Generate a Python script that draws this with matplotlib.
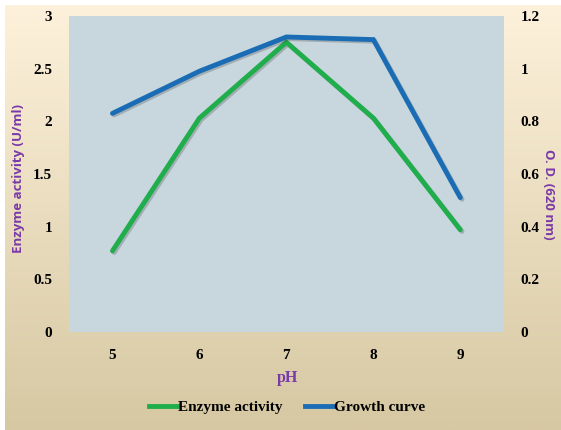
import numpy as np
import matplotlib
matplotlib.use("Agg")
import matplotlib.pyplot as plt
import matplotlib.patheffects as pe
from matplotlib.lines import Line2D

# pH values and measured series
ph = [5, 6, 7, 8, 9]
enzyme_activity = [0.77, 2.03, 2.75, 2.03, 0.97]   # U/ml
growth_od = [0.83, 0.99, 1.12, 1.11, 0.51]          # O.D. at 620 nm

left_ticks = [0, 0.5, 1, 1.5, 2, 2.5, 3]
left_labels = ["0", "0.5", "1", "1.5", "2", "2.5", "3"]
right_ticks = [0, 0.2, 0.4, 0.6, 0.8, 1.0, 1.2]
right_labels = ["0", "0.2", "0.4", "0.6", "0.8", "1", "1.2"]

GREEN = "#1fae4b"
BLUE = "#1a6db5"
PURPLE = "#7a3aa8"
PLOT_BG = "#c8d7de"
SERIF = "Liberation Serif"
SANS = "Open Sans"

fig = plt.figure(figsize=(5.61, 4.30), dpi=100)
fig.patch.set_facecolor("white")

# cream-to-tan vertical gradient behind the chart
bg = fig.add_axes([0.009, 0.0, 0.991, 0.988], zorder=0)
grad = np.linspace(0, 1, 256).reshape(-1, 1)
top = np.array([0xfd, 0xf1, 0xdb]) / 255
bot = np.array([0xd6, 0xc8, 0xa2]) / 255
img = top + (bot - top) * grad[..., None]
bg.imshow(img, aspect="auto", extent=[0, 1, 0, 1], origin="upper")
bg.set_axis_off()

ax = fig.add_axes([0.123, 0.228, 0.775, 0.735], zorder=2)
ax.set_facecolor(PLOT_BG)
ax2 = ax.twinx()

shadow = [pe.SimpleLineShadow(offset=(1.2, -1.2), alpha=0.25, shadow_color="#333333"), pe.Normal()]

ax.plot(ph, enzyme_activity, color=GREEN, lw=3.5, solid_capstyle="round",
        solid_joinstyle="miter", path_effects=shadow, zorder=3)
ax2.plot(ph, growth_od, color=BLUE, lw=3.5, solid_capstyle="round",
         solid_joinstyle="miter", path_effects=shadow, zorder=3)

ax.set_xlim(4.5, 9.5)
ax.set_ylim(0, 3)
ax2.set_ylim(0, 1.2)

ax.set_xticks(ph)
ax.set_xticklabels([str(p) for p in ph], fontfamily=SERIF, fontweight="bold", fontsize=11)
ax.set_yticks(left_ticks)
ax.set_yticklabels(left_labels, fontfamily=SERIF, fontweight="bold", fontsize=11)
ax2.set_yticks(right_ticks)
ax2.set_yticklabels(right_labels, fontfamily=SERIF, fontweight="bold", fontsize=11)

for a in (ax, ax2):
    for s in a.spines.values():
        s.set_visible(False)
    a.tick_params(length=0)
ax.tick_params(axis="x", pad=12)
ax.tick_params(axis="y", pad=12)
ax2.tick_params(axis="y", pad=12)

fig.text(0.033, 0.584, "Enzyme activity (U/ml)", rotation=90, ha="center", va="center",
         color=PURPLE, fontfamily=SANS, fontweight="bold", fontsize=9.5)
fig.text(0.977, 0.549, "O. D. (620 nm)", rotation=270, ha="center", va="center",
         color=PURPLE, fontfamily=SANS, fontweight="bold", fontsize=9.5)
fig.text(0.512, 0.121, "pH", ha="center", va="center", color=PURPLE,
         fontfamily=SERIF, fontweight="bold", fontsize=11.5)

handles = [Line2D([], [], color=GREEN, lw=3.5), Line2D([], [], color=BLUE, lw=3.5)]
fig.legend(handles, ["Enzyme activity", "Growth curve"], loc="center",
           bbox_to_anchor=(0.512, 0.053), ncol=2, frameon=False,
           prop={"family": SERIF, "weight": "bold", "size": 11},
           handlelength=1.9, handletextpad=0.0, columnspacing=1.5)

fig.savefig("out.png", dpi=100)
